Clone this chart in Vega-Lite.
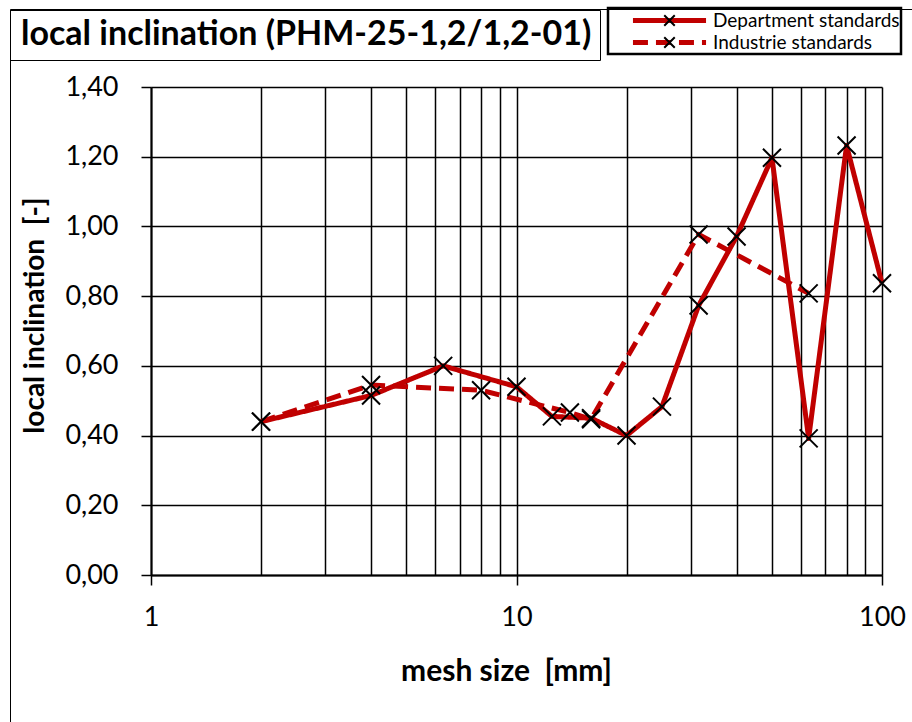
{
  "$schema": "https://vega.github.io/schema/vega-lite/v6.json",
  "width": 731,
  "height": 488,
  "autosize": {"type": "none"},
  "padding": {"left": 151, "top": 87, "right": 30, "bottom": 147},
  "background": "white",
  "config": {
    "font": "Lato",
    "view": {"stroke": null},
    "axis": {"labelFont": "Lato", "titleFont": "Lato", "labelColor": "black", "titleColor": "black"}
  },
  "data": {
    "values": [
      {"series": "Department standards", "size": 2, "value": 0.44},
      {"series": "Department standards", "size": 4, "value": 0.515},
      {"series": "Department standards", "size": 6.3, "value": 0.6},
      {"series": "Department standards", "size": 10, "value": 0.54},
      {"series": "Department standards", "size": 12.5, "value": 0.455},
      {"series": "Department standards", "size": 16, "value": 0.45},
      {"series": "Department standards", "size": 20, "value": 0.4},
      {"series": "Department standards", "size": 25, "value": 0.483},
      {"series": "Department standards", "size": 31.5, "value": 0.773},
      {"series": "Department standards", "size": 40, "value": 0.971},
      {"series": "Department standards", "size": 50, "value": 1.197},
      {"series": "Department standards", "size": 63, "value": 0.392},
      {"series": "Department standards", "size": 80, "value": 1.232},
      {"series": "Department standards", "size": 100, "value": 0.837},
      {"series": "Industrie standards", "size": 2, "value": 0.44},
      {"series": "Industrie standards", "size": 4, "value": 0.545},
      {"series": "Industrie standards", "size": 8, "value": 0.53},
      {"series": "Industrie standards", "size": 14, "value": 0.466},
      {"series": "Industrie standards", "size": 16, "value": 0.447},
      {"series": "Industrie standards", "size": 31.5, "value": 0.977},
      {"series": "Industrie standards", "size": 63, "value": 0.808}
    ]
  },
  "layer": [
    {
      "mark": {"type": "line", "strokeWidth": 5, "strokeJoin": "round"},
      "encoding": {
        "x": {
          "field": "size", "type": "quantitative",
          "scale": {"type": "log", "domain": [1, 100], "nice": false},
          "axis": {
            "values": [1, 2, 3, 4, 5, 6, 7, 8, 9, 10, 20, 30, 40, 50, 60, 70, 80, 90, 100],
            "labelExpr": "(datum.value == 1 || datum.value == 10 || datum.value == 100) ? datum.label : ''",
            "tickOpacity": {"condition": {"test": "datum.value == 1 || datum.value == 10 || datum.value == 100", "value": 1}, "value": 0},
            "grid": true, "gridColor": "black", "gridWidth": 1.5, "gridOpacity": 1,
            "domainColor": "black", "domainWidth": 2,
            "tickColor": "black", "tickWidth": 1.5, "tickSize": 10,
            "labelFontSize": 27, "labelPadding": 19, "labelFlush": false, "labelOverlap": false,
            "title": "mesh size \u00a0[mm]", "titleFontSize": 30, "titleFontWeight": "bold",
            "titleX": 355, "titleY": 105, "titleBaseline": "alphabetic"
          }
        },
        "y": {
          "field": "value", "type": "quantitative",
          "scale": {"domain": [0, 1.4], "nice": false, "zero": true},
          "axis": {
            "values": [0, 0.2, 0.4, 0.6, 0.8, 1.0, 1.2, 1.4],
            "labelExpr": "replace(format(datum.value, '.2f'), '.', ',')",
            "grid": true, "gridColor": "black", "gridWidth": 1.5, "gridOpacity": 1,
            "domainColor": "black", "domainWidth": 2,
            "tickColor": "black", "tickWidth": 1.5, "tickSize": 10,
            "labelFontSize": 27, "labelPadding": 23, "labelFlush": false,
            "title": "local inclination \u00a0[-]", "titleFontSize": 28, "titleFontWeight": "bold",
            "titleX": -108, "titleY": 228, "titleBaseline": "alphabetic", "titleAlign": "center", "titleAngle": 270
          }
        },
        "color": {
          "field": "series", "type": "nominal",
          "scale": {"domain": ["Department standards", "Industrie standards"], "range": ["#C00000", "#C00000"]},
          "legend": {
            "title": null, "orient": "none", "legendX": 457, "legendY": -79,
            "strokeColor": "black", "padding": 1,
            "symbolType": "M-4.06,0L4.06,0", "symbolSize": 324, "symbolStrokeWidth": 5, "symbolOffset": 49,
            "labelFont": "Lato", "labelFontSize": 19, "labelColor": "black", "labelOffset": 32, "labelLimit": 400,
            "rowPadding": 0,
            "encode": {"legend": {"update": {"strokeWidth": {"value": 2.5}}}}
          }
        },
        "strokeDash": {
          "field": "series", "type": "nominal",
          "scale": {"domain": ["Department standards", "Industrie standards"], "range": [[1, 0], [15, 8]]}
        }
      }
    },
    {
      "transform": [{"calculate": "datum.series", "as": "marker"}],
      "mark": {"type": "point", "filled": false, "stroke": "black", "strokeWidth": 2, "size": 1296, "opacity": 1},
      "encoding": {
        "x": {"field": "size", "type": "quantitative"},
        "y": {"field": "value", "type": "quantitative"},
        "shape": {
          "field": "marker", "type": "nominal",
          "scale": {"range": ["M-0.5,-0.5L0.5,0.5M-0.5,0.5L0.5,-0.5", "M-0.5,-0.5L0.5,0.5M-0.5,0.5L0.5,-0.5"]},
          "legend": {
            "title": null, "orient": "none", "legendX": 457, "legendY": -79,
            "padding": 1, "symbolSize": 441, "symbolStrokeColor": "black", "symbolFillColor": "transparent",
            "symbolStrokeWidth": 2, "symbolOffset": 49, "symbolOpacity": 1,
            "labelFont": "Lato", "labelFontSize": 19, "labelExpr": "''", "labelOffset": 32, "labelLimit": 400,
            "rowPadding": 0,
            "encode": {"symbols": {"update": {"stroke": {"value": "black"}, "strokeWidth": {"value": 2}, "opacity": {"value": 1}, "size": {"value": 441}}}}
          }
        }
      }
    },
    {
      "mark": {"type": "point", "filled": false, "size": 0, "strokeWidth": 0},
      "encoding": {
        "x": {"field": "size", "type": "quantitative"},
        "y": {"field": "value", "type": "quantitative"},
        "fill": {
          "datum": "local inclination (PHM-25-1,2/1,2-01)", "type": "nominal",
          "scale": {"range": ["transparent"]},
          "legend": {
            "title": null, "orient": "none", "legendX": -141, "legendY": -77,
            "strokeColor": "black", "padding": 8,
            "symbolSize": 0, "symbolOpacity": 0, "symbolStrokeWidth": 0, "labelOffset": -31,
            "labelFont": "Lato", "labelFontWeight": "bold", "labelFontSize": 34, "labelColor": "black", "labelLimit": 1000,
            "encode": {"legend": {"update": {"strokeWidth": {"value": 2.5}}}}
          }
        },
        "opacity": {
          "datum": "frame", "type": "ordinal",
          "scale": {"type": "point", "range": [1, 1]},
          "legend": {
            "title": null, "orient": "none", "legendX": -141, "legendY": -78,
            "strokeColor": "black", "padding": 470,
            "symbolSize": 0, "symbolOpacity": 0, "symbolStrokeWidth": 0,
            "labelExpr": "''", "labelFontSize": 10,
            "encode": {"legend": {"update": {"strokeWidth": {"value": 3}}}}
          }
        }
      }
    }
  ]
}
